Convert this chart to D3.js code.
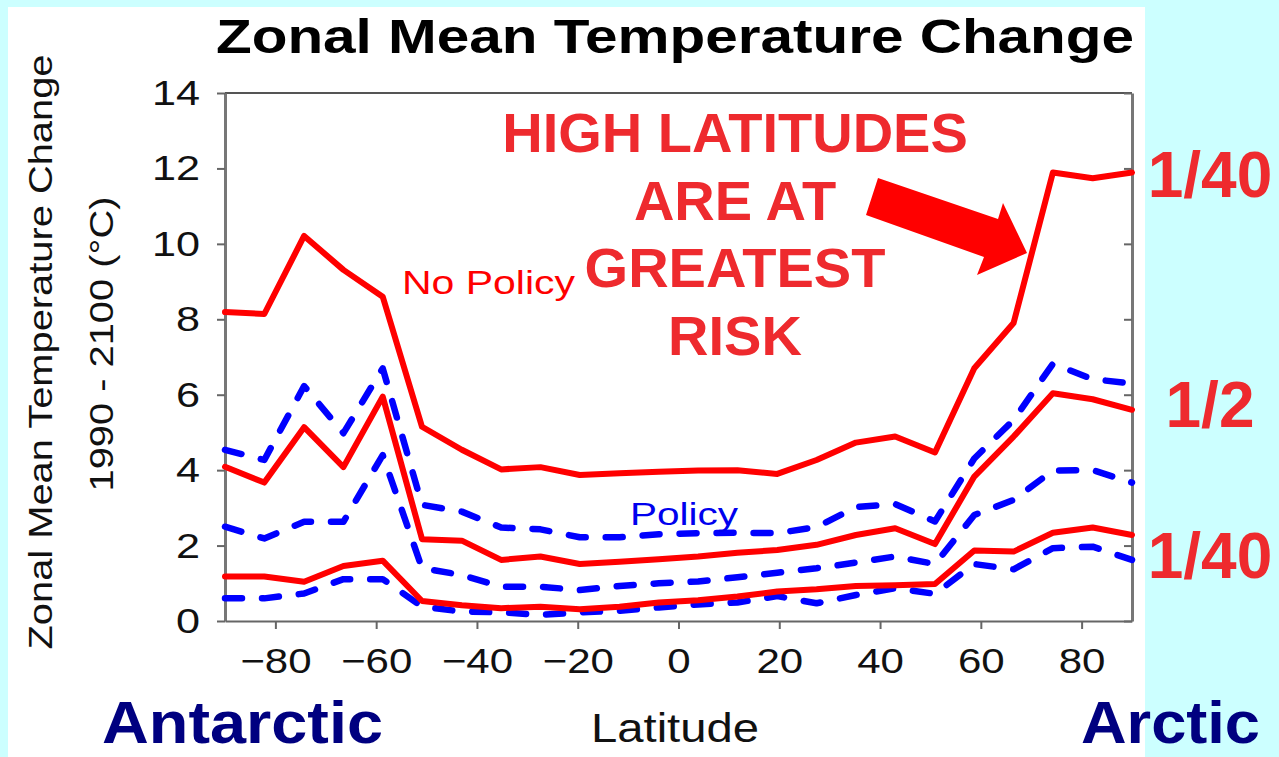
<!DOCTYPE html>
<html>
<head>
<meta charset="utf-8">
<script src="https://cdn.jsdelivr.net/npm/d3@7"></script>
<style>
  body { margin: 0; background: #ccffff; }
  svg { display: block; }
</style>
</head>
<body>
<svg width="1279" height="757"></svg>
<script>
// latitude of each model zone, south to north
var latitude = [-90, -82.2, -74.3, -66.5, -58.7, -50.9, -43.0, -35.2, -27.4, -19.6, -11.7, -3.9,
                3.9, 11.7, 19.6, 27.4, 35.2, 43.0, 50.9, 58.7, 66.5, 74.3, 82.2, 90];

// no policy (red, solid): upper 1/40, median, lower 1/40
var noPolicyHigh = [8.19, 8.14, 10.21, 9.31, 8.60, 5.15, 4.54, 4.02, 4.08, 3.87, 3.92, 3.96,
                    3.99, 4.00, 3.90, 4.27, 4.73, 4.89, 4.47, 6.70, 7.90, 11.89, 11.74, 11.89];
var noPolicyMed  = [4.09, 3.67, 5.14, 4.08, 5.95, 2.17, 2.13, 1.62, 1.71, 1.51, 1.57, 1.64,
                    1.71, 1.81, 1.88, 2.02, 2.28, 2.46, 2.04, 3.83, 4.89, 6.04, 5.88, 5.60];
var noPolicyLow  = [1.18, 1.18, 1.04, 1.46, 1.60, 0.53, 0.42, 0.34, 0.38, 0.31, 0.38, 0.49,
                    0.55, 0.65, 0.78, 0.84, 0.93, 0.95, 0.98, 1.87, 1.84, 2.34, 2.48, 2.28];

// policy (blue, dashed): upper 1/40, median, lower 1/40
var policyHigh = [4.54, 4.27, 6.23, 4.98, 6.70, 3.08, 2.90, 2.48, 2.43, 2.22, 2.22, 2.30,
                  2.33, 2.34, 2.33, 2.49, 3.02, 3.10, 2.64, 4.31, 5.33, 6.82, 6.41, 6.30];
var policyMed  = [2.50, 2.19, 2.63, 2.63, 4.40, 1.40, 1.22, 0.91, 0.91, 0.82, 0.93, 1.00,
                  1.05, 1.16, 1.28, 1.40, 1.55, 1.71, 1.51, 2.81, 3.21, 3.99, 4.00, 3.67];
var policyLow  = [0.60, 0.60, 0.73, 1.11, 1.11, 0.38, 0.25, 0.23, 0.16, 0.23, 0.27, 0.36,
                  0.44, 0.49, 0.66, 0.47, 0.69, 0.87, 0.72, 1.51, 1.37, 1.93, 1.97, 1.62];

var yTicks = [0, 2, 4, 6, 8, 10, 12, 14];
var xTicks = [-80, -60, -40, -20, 0, 20, 40, 60, 80];
var riskLines = ["HIGH LATITUDES", "ARE AT", "GREATEST", "RISK"];
var rangeLabels = [{text: "1/40", v: 11.85}, {text: "1/2", v: 5.75}, {text: "1/40", v: 1.75}];

var svg = d3.select("svg");
var font = "'Liberation Sans', Arial, Helvetica, sans-serif";

// white slide panel on the cyan background
svg.append("rect")
    .attr("x", 8).attr("y", 7)
    .attr("width", 1137).attr("height", 750)
    .attr("fill", "#fff");

var x = d3.scaleLinear().domain([-90, 90]).range([225, 1132]);
var y = d3.scaleLinear().domain([0, 14]).range([621, 93]);

// frame: top and right edges
svg.append("line")
    .attr("x1", x(-90)).attr("x2", x(90))
    .attr("y1", y(14)).attr("y2", y(14))
    .attr("stroke", "#555").attr("stroke-width", 2);

var right = svg.append("g")
    .attr("transform", "translate(" + x(90) + ",0)")
    .call(d3.axisRight(y).tickValues(yTicks).tickSize(-8).tickSizeOuter(0).tickFormat(""));
right.select(".domain").attr("stroke", "#777").attr("stroke-width", 3);
right.selectAll(".tick line").attr("stroke", "#666").attr("stroke-width", 2);

var left = svg.append("g")
    .attr("transform", "translate(" + x(-90) + ",0)")
    .call(d3.axisLeft(y).tickValues(yTicks).tickSize(8).tickSizeOuter(0));
left.select(".domain").attr("stroke", "#777").attr("stroke-width", 3);
left.selectAll(".tick line").attr("stroke", "#666").attr("stroke-width", 2);
left.selectAll(".tick text")
    .attr("x", -25 / 1.2)
    .attr("transform", "scale(1.2,1)")
    .attr("font-family", font).attr("font-size", 36).attr("fill", "#111");

var bottom = svg.append("g")
    .attr("transform", "translate(0," + y(0) + ")")
    .call(d3.axisBottom(x).tickValues(xTicks).tickSize(8).tickSizeOuter(0).tickPadding(19));
bottom.select(".domain").attr("stroke", "#666").attr("stroke-width", 2);
bottom.selectAll(".tick line").attr("stroke", "#666").attr("stroke-width", 2);
bottom.selectAll(".tick text")
    .attr("transform", "scale(1.2,1)")
    .attr("font-family", font).attr("font-size", 35).attr("fill", "#111");

// series
var line = d3.line()
    .x(function(d, i) { return x(latitude[i]); })
    .y(function(d) { return y(d); });

var series = [
  {values: policyHigh, color: "#0000ff", dash: "17,20"},
  {values: policyMed,  color: "#0000ff", dash: "17,20"},
  {values: policyLow,  color: "#0000ff", dash: "17,20"},
  {values: noPolicyHigh, color: "#ff0000", dash: null},
  {values: noPolicyMed,  color: "#ff0000", dash: null},
  {values: noPolicyLow,  color: "#ff0000", dash: null}
];

svg.append("g").selectAll("path")
    .data(series)
    .enter().append("path")
    .attr("d", function(d) { return line(d.values); })
    .attr("fill", "none")
    .attr("stroke", function(d) { return d.color; })
    .attr("stroke-width", function(d) { return d.dash ? 6.5 : 6; })
    .attr("stroke-dasharray", function(d) { return d.dash; })
    .attr("stroke-linecap", "round")
    .attr("stroke-linejoin", "round");

// titles
svg.append("text")
    .attr("x", 216).attr("y", 53)
    .attr("textLength", 918).attr("lengthAdjust", "spacingAndGlyphs")
    .attr("font-family", font).attr("font-weight", "bold").attr("font-size", 48)
    .attr("fill", "#000")
    .text("Zonal Mean Temperature Change");

svg.append("text")
    .attr("transform", "translate(52,352) rotate(-90)")
    .attr("text-anchor", "middle")
    .attr("textLength", 595).attr("lengthAdjust", "spacingAndGlyphs")
    .attr("font-family", font).attr("font-size", 33).attr("fill", "#111")
    .text("Zonal Mean Temperature Change");

svg.append("text")
    .attr("transform", "translate(113,344) rotate(-90)")
    .attr("text-anchor", "middle")
    .attr("textLength", 295).attr("lengthAdjust", "spacingAndGlyphs")
    .attr("font-family", font).attr("font-size", 33).attr("fill", "#111")
    .text("1990 - 2100 (°C)");

svg.append("text")
    .attr("x", 675).attr("y", 742)
    .attr("text-anchor", "middle")
    .attr("textLength", 168).attr("lengthAdjust", "spacingAndGlyphs")
    .attr("font-family", font).attr("font-size", 40).attr("fill", "#111")
    .text("Latitude");

// series labels
svg.append("text")
    .attr("x", 402).attr("y", 294)
    .attr("textLength", 173).attr("lengthAdjust", "spacingAndGlyphs")
    .attr("font-family", font).attr("font-size", 33).attr("fill", "#ff0000")
    .text("No Policy");

svg.append("text")
    .attr("x", 630).attr("y", 525)
    .attr("textLength", 108).attr("lengthAdjust", "spacingAndGlyphs")
    .attr("font-family", font).attr("font-size", 32).attr("fill", "#0000ee")
    .text("Policy");

// callout
svg.append("g").selectAll("text")
    .data(riskLines)
    .enter().append("text")
    .attr("x", 735)
    .attr("y", function(d, i) { return 152 + i * 67.7; })
    .attr("text-anchor", "middle")
    .attr("font-family", font).attr("font-weight", "bold").attr("font-size", 56)
    .attr("fill", "#ee2a2e")
    .text(function(d) { return d; });

svg.append("polygon")
    .attr("points", [[878, 178], [998, 219], [1003, 203], [1027, 253], [977, 275], [984, 257], [866, 215]]
          .map(function(p) { return p.join(","); }).join(" "))
    .attr("fill", "#ff0000");

svg.append("g").selectAll("text")
    .data(rangeLabels)
    .enter().append("text")
    .attr("x", 1210)
    .attr("y", function(d) { return y(d.v) + 23; })
    .attr("text-anchor", "middle")
    .attr("font-family", font).attr("font-weight", "bold").attr("font-size", 64)
    .attr("fill", "#ee2a2e")
    .text(function(d) { return d.text; });

// poles (kept just inside the bottom edge)
svg.append("text")
    .attr("x", 102).attr("y", 743)
    .attr("textLength", 281).attr("lengthAdjust", "spacingAndGlyphs")
    .attr("font-family", font).attr("font-weight", "bold").attr("font-size", 60)
    .attr("fill", "#000080")
    .text("Antarctic");

svg.append("text")
    .attr("x", 1081).attr("y", 743)
    .attr("textLength", 179).attr("lengthAdjust", "spacingAndGlyphs")
    .attr("font-family", font).attr("font-weight", "bold").attr("font-size", 60)
    .attr("fill", "#000080")
    .text("Arctic");
</script>
</body>
</html>
